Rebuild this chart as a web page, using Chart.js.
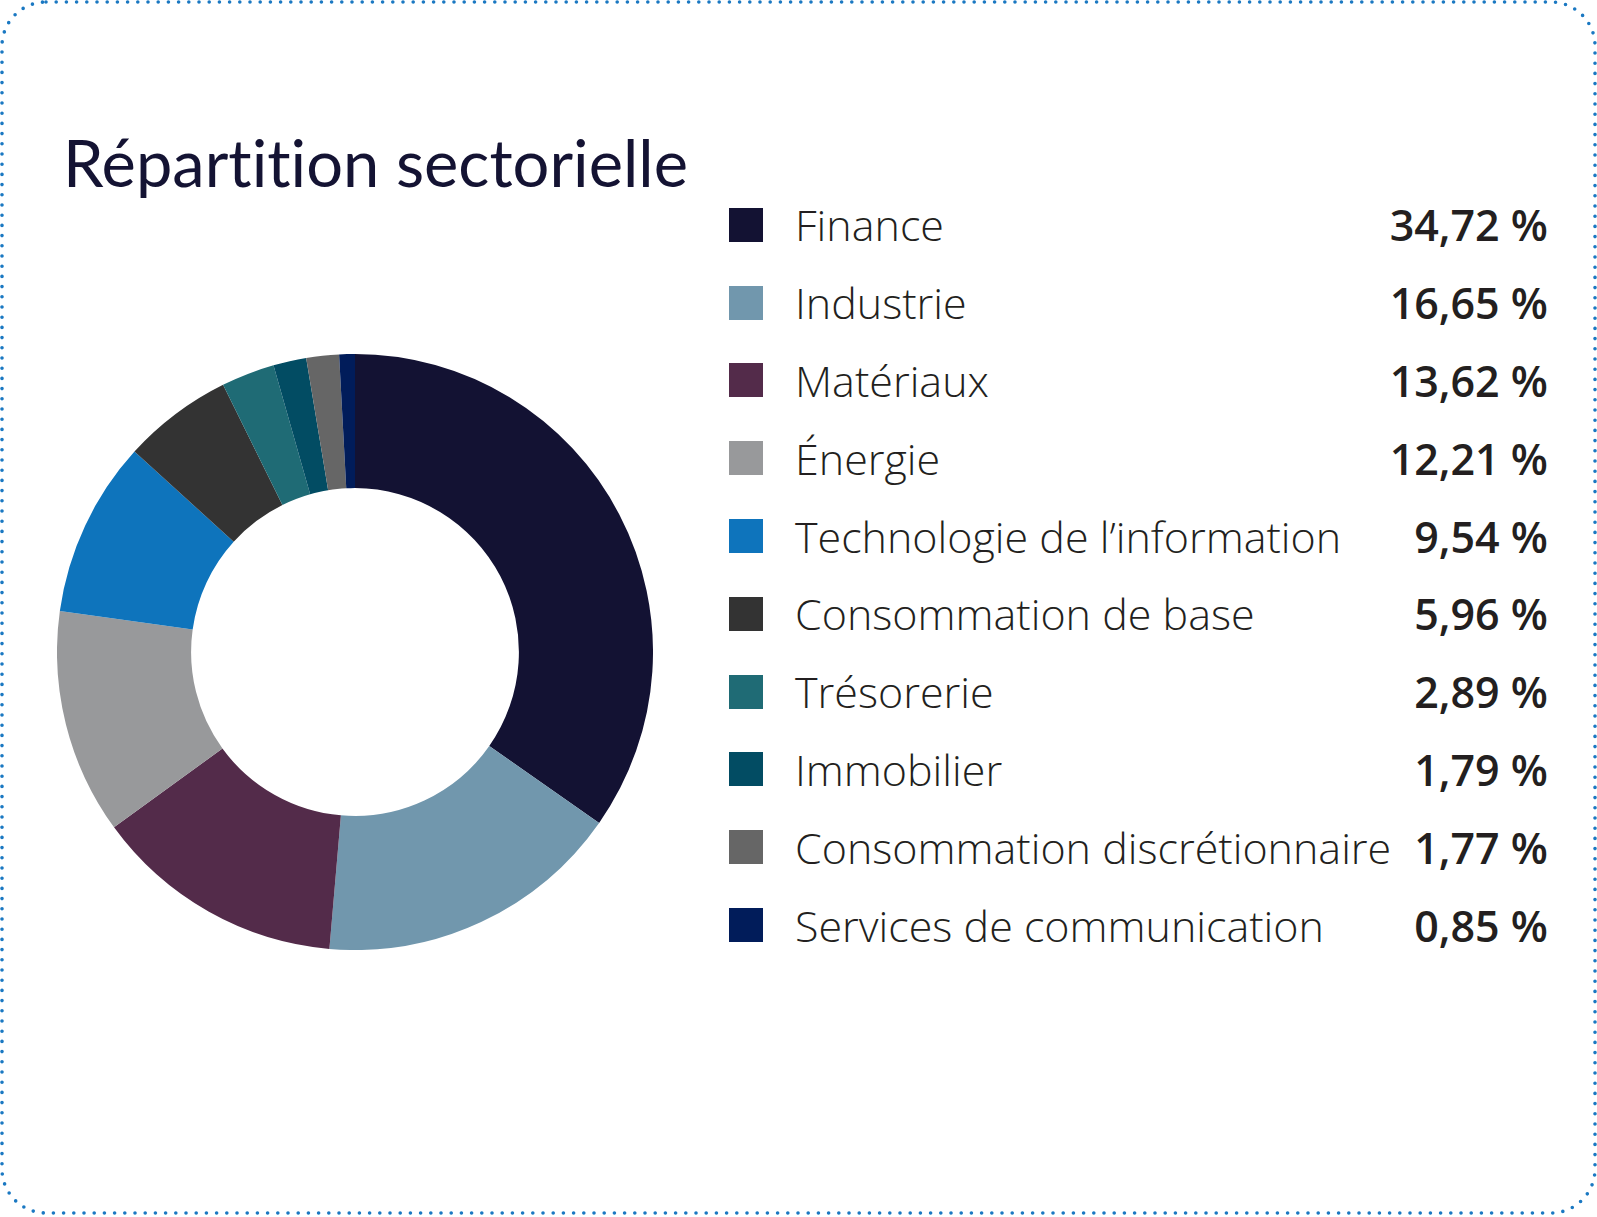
<!DOCTYPE html>
<html lang="fr">
<head>
<meta charset="utf-8">
<script src="https://cdn.jsdelivr.net/npm/chart.js@4"></script>
<style>
  html, body { margin: 0; padding: 0; background: #fff; }
  body { width: 1597px; height: 1217px; position: relative; overflow: hidden; }
  #frame { position: absolute; left: 0; top: 0; }
  #title {
    position: absolute; left: 63px; top: 123px;
    font-family: Lato, "Open Sans", sans-serif; font-weight: 400;
    font-size: 65px; color: #141333; white-space: nowrap;
    font-variant-ligatures: none; font-feature-settings: "liga" 0;
  }
  #donut { position: absolute; left: 57px; top: 354px; width: 596px; height: 596px; }
  #legend { position: absolute; left: 729px; top: 186px; width: 819px; }
  .row { display: flex; align-items: center; height: 77.8px; }
  .swatch { width: 34px; height: 34px; flex: none; }
  .label {
    margin-left: 32px; flex: 1; white-space: nowrap;
    font-family: "Open Sans", sans-serif; font-weight: 300; font-size: 43px; color: #231f20;
  }
  .value {
    white-space: nowrap; text-align: right;
    font-family: "Open Sans", sans-serif; font-weight: 600; font-size: 43px; color: #231f20;
  }
</style>
</head>
<body>
<svg id="frame" width="1597" height="1217">
  <rect x="2" y="2" width="1593" height="1211" rx="44" ry="44" fill="none"
        stroke="#1a78c2" stroke-width="3.6" stroke-dasharray="0 10.2" stroke-linecap="round"/>
</svg>
<div id="title">Répartition sectorielle</div>
<div id="donut"><canvas id="SectorPie"></canvas></div>
<div id="legend"></div>

<script>
// secteurs, dans l'ordre du graphique (sens horaire depuis midi)
let sectorLabels = [
    'Finance',
    'Industrie',
    'Matériaux',
    'Énergie',
    'Technologie de l’information',
    'Consommation de base',
    'Trésorerie',
    'Immobilier',
    'Consommation discrétionnaire',
    'Services de communication'
];

let sectorWeights = [34.72, 16.65, 13.62, 12.21, 9.54, 5.96, 2.89, 1.79, 1.77, 0.85];

let sectorColors = [
    '#131233', '#7197ad', '#532b4a', '#98999b', '#0e74bc',
    '#333333', '#1f6b75', '#024c63', '#666666', '#011c5a'
];

function FormatPercent(value) {
    return value.toFixed(2).replace('.', ',') + ' %';
}

function BuildLegend(container) {
    for (let i = 0; i < sectorLabels.length; i++) {
        let row = document.createElement('div');
        row.className = 'row';
        row.innerHTML = '<div class="swatch" style="background:' + sectorColors[i] + '"></div>' +
            '<div class="label">' + sectorLabels[i] + '</div>' +
            '<div class="value">' + FormatPercent(sectorWeights[i]) + '</div>';
        container.appendChild(row);
    }
}

function InitializeSectorChart(ctx) {
    window.sectorChart = new Chart(ctx, {
        type: 'doughnut',
        data: {
            labels: sectorLabels,
            datasets: [{
                data: sectorWeights,
                backgroundColor: sectorColors,
                borderWidth: 0,
                hoverOffset: 0
            }]
        },
        options: {
            responsive: true,
            maintainAspectRatio: false,
            animation: false,
            cutout: '55%',
            layout: { padding: 0 },
            plugins: {
                legend: { display: false },
                tooltip: { enabled: false }
            }
        }
    });
}

BuildLegend(document.getElementById('legend'));
InitializeSectorChart(document.getElementById('SectorPie').getContext('2d'));
</script>
</body>
</html>
